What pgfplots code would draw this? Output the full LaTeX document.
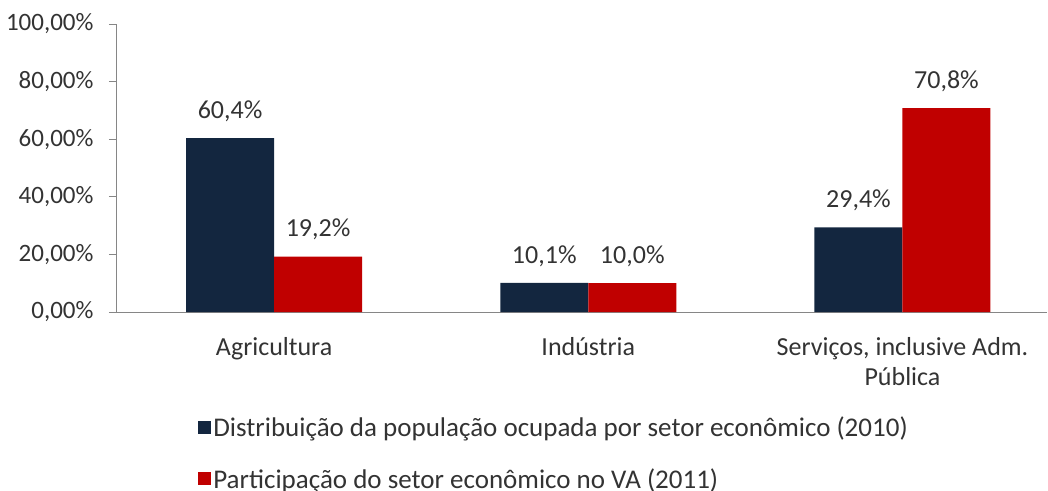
\documentclass[border=0pt]{standalone}
\usepackage{pgfplots}
\pgfplotsset{compat=1.18}
\usepackage{fontspec}
\setmainfont{Carlito}
\definecolor{navy}{HTML}{13263F}
\definecolor{darkred}{HTML}{C00000}
\definecolor{axgray}{HTML}{868686}
\definecolor{txt}{HTML}{333333}
\begin{document}
\begin{tikzpicture}
\begin{axis}[
  at={(0,0)}, anchor=south west,
  scale only axis,
  width=930pt, height=288pt,
  xmin=-0.5, xmax=2.46,
  ymin=0, ymax=100,
  axis x line*=bottom, axis y line*=left,
  axis line style={axgray, line width=1pt},
  tick align=outside,
  major tick length=8pt,
  tick style={axgray, line width=1pt},
  ytick={0,20,40,60,80,100},
  yticklabels={{0,00\%},{20,00\%},{40,00\%},{60,00\%},{80,00\%},{100,00\%}},
  xtick={0,1,2},
  xticklabels={Agricultura, Indústria, {Serviços, inclusive Adm.\\Pública}},
  x tick style={draw=none},
  extra x ticks={-0.5,0.5,1.5},
  extra x tick labels={},
  extra x tick style={tick style={axgray, line width=1pt}},
  xticklabel style={align=center, font=\fontsize{26}{30}\selectfont, text=txt, yshift=-14pt},
  yticklabel style={font=\fontsize{25}{28}\selectfont, text=txt, xshift=-12pt},
  ybar,
  nodes near coords,
  point meta=explicit symbolic,
  nodes near coords style={font=\fontsize{26}{30}\selectfont, text=txt, anchor=center, yshift=27pt},
  legend style={at={(0.084,-0.35)}, anchor=north west, draw=none, fill=none,
    font=\fontsize{27}{30}\selectfont, text=txt, row sep=26pt,
    legend cell align=left},
  legend image code/.code={\fill[#1] (0pt,-6.5pt) rectangle (13pt,6.5pt);},
]
\addplot[fill=navy, draw=none, bar width=88pt, bar shift=-44pt] coordinates {(0,60.4) [60,4\%] (1,10.1) [10,1\%] (2,29.4) [29,4\%]};
\addlegendentry{Distribuição da população ocupada por setor econômico (2010)}
\addplot[fill=darkred, draw=none, bar width=88pt, bar shift=44pt] coordinates {(0,19.2) [19,2\%] (1,10.0) [10,0\%] (2,70.8) [70,8\%]};
\addlegendentry{Participação do setor econômico no VA (2011)}
\end{axis}
\pgfresetboundingbox
\path[use as bounding box] (-117pt,-178pt) rectangle (931pt,312pt);
\end{tikzpicture}
\end{document}
